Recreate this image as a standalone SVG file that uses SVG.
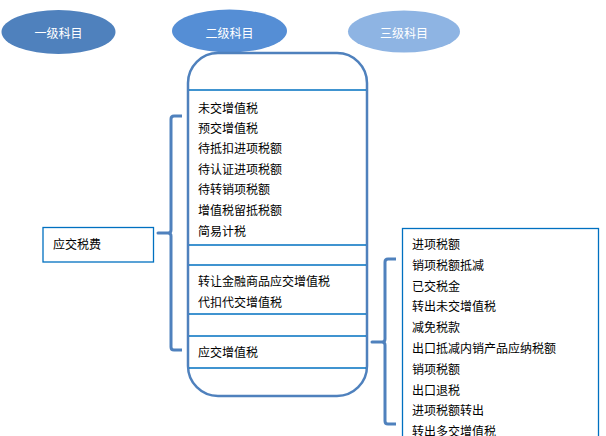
<svg xmlns="http://www.w3.org/2000/svg" width="606" height="436" viewBox="0 0 606 436">
<style>
text{font-family:"Noto Sans CJK SC","Liberation Sans",sans-serif;font-size:12px;fill:#000;dominant-baseline:central}
.h{fill:#fff;text-anchor:middle;font-size:12px}
.ln{stroke:#0070C0;stroke-width:1.3;fill:none}
.br{stroke:#4F81BD;stroke-width:3;fill:none;stroke-linejoin:round}
</style>
<rect width="606" height="436" fill="#fff"/>
<g id="h1"><ellipse cx="58.5" cy="32" rx="57" ry="22" fill="#4F81BD"/><text class="h" x="58.5" y="32">一级科目</text></g>
<g id="h2"><ellipse cx="229.5" cy="31" rx="57.5" ry="21.5" fill="#558ED5"/><text class="h" x="229.5" y="32">二级科目</text></g>
<g id="h3"><ellipse cx="404" cy="31.5" rx="56" ry="21" fill="#8EB4E3"/><text class="h" x="404" y="32">三级科目</text></g>
<g id="level2">
<rect x="188" y="53" width="179" height="343" rx="30" ry="30" fill="none" stroke="#4F81BD" stroke-width="2.5"/>
<line class="ln" x1="189" y1="90" x2="366" y2="90"/>
<line class="ln" x1="189" y1="245" x2="366" y2="245"/>
<line class="ln" x1="189" y1="265" x2="366" y2="265"/>
<line class="ln" x1="189" y1="314" x2="366" y2="314"/>
<line class="ln" x1="189" y1="336" x2="366" y2="336"/>
<line class="ln" x1="189" y1="368" x2="366" y2="368"/>
<text x="198" y="107">未交增值税</text>
<text x="198" y="127">预交增值税</text>
<text x="198" y="147.5">待抵扣进项税额</text>
<text x="198" y="168">待认证进项税额</text>
<text x="198" y="188.5">待转销项税额</text>
<text x="198" y="209">增值税留抵税额</text>
<text x="198" y="230">简易计税</text>
<text x="198" y="280">转让金融商品应交增值税</text>
<text x="198" y="301.5">代扣代交增值税</text>
<text x="198" y="351">应交增值税</text>
</g>
<g id="root">
<rect x="43" y="227.5" width="110.5" height="34.5" fill="none" stroke="#0070C0" stroke-width="1.3"/>
<text x="53" y="243">应交税费</text>
</g>
<g id="level3">
<rect x="402.5" y="228.5" width="196" height="220" fill="none" stroke="#0070C0" stroke-width="1.3"/>
<text x="412" y="243">进项税额</text>
<text x="412" y="264">销项税额抵减</text>
<text x="412" y="285">已交税金</text>
<text x="412" y="305.5">转出未交增值税</text>
<text x="412" y="326">减免税款</text>
<text x="412" y="347">出口抵减内销产品应纳税额</text>
<text x="412" y="368">销项税额</text>
<text x="412" y="389">出口退税</text>
<text x="412" y="409">进项税额转出</text>
<text x="412" y="430">转出多交增值税</text>
</g>
<g id="connectors">
<path class="br" d="M182,116 L174,116 Q171,116 171,119 L171,230 Q171,233 168,233 L158,233 L168,233 Q171,233 171,236 L171,347 Q171,350 174,350 L182,350"/>
<path class="br" d="M396,259 L388,259 Q385,259 385,262 L385,339 Q385,342 382,342 L372,342 L382,342 Q385,342 385,345 L385,421 Q385,424 388,424 L396,424"/>
</g>
</svg>
